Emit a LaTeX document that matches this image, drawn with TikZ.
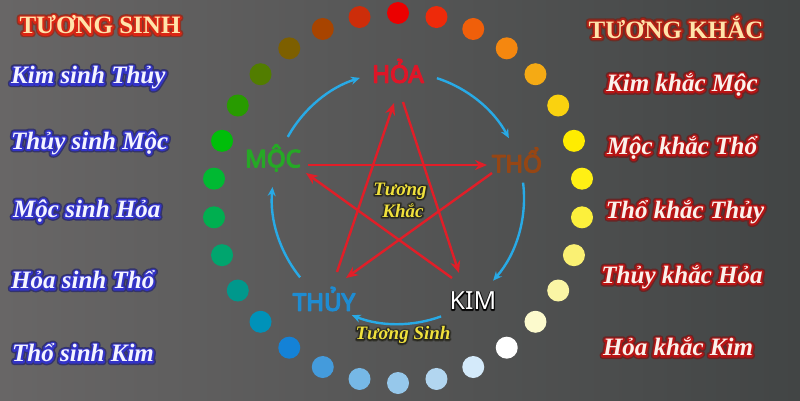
\documentclass[tikz,border=0pt]{standalone}
\usepackage{fontspec}
\setmainfont{Liberation Serif}
\newfontfamily\elemfont{Noto Sans}
\usetikzlibrary{arrows.meta,calc}
% outline glow: wide soft stroke #1/#2, narrow stroke #3/#4, then the normal fill pass
\newcommand\glowtxt[5]{\leavevmode\rlap{\special{pdf:literal direct 1 Tr #2 w 1 j 1 J #1 RG}#5\special{pdf:literal direct 0 Tr}}\rlap{\special{pdf:literal direct 1 Tr #4 w 1 j 1 J #3 RG}#5\special{pdf:literal direct 0 Tr}}#5}
% heavier weight: fill and stroke in the text colour
\newcommand\heavytxt[2]{\special{pdf:literal direct 2 Tr #1 w 1 j}#2\special{pdf:literal direct 0 Tr}}
\definecolor{bgl}{RGB}{104,102,102}
\definecolor{bgr}{RGB}{66,69,69}
\definecolor{titletxt}{RGB}{255,228,170}
\definecolor{itemtxt}{RGB}{250,242,236}
\definecolor{sinhtxt}{RGB}{245,245,255}
\definecolor{hoac}{RGB}{222,22,40}
\definecolor{mocc}{RGB}{38,168,38}
\definecolor{thoc}{RGB}{150,70,20}
\definecolor{thuyc}{RGB}{30,140,210}
\definecolor{arcc}{RGB}{40,170,230}
\definecolor{starc}{RGB}{225,30,40}
\definecolor{yel}{RGB}{240,225,60}
\begin{document}
\begin{tikzpicture}[x=1pt,y=1pt,
  dot/.style={circle,inner sep=0pt,minimum size=22pt},
  elem/.style={font=\elemfont\fontsize{24}{24}\selectfont,inner sep=0pt},
  sinhitem/.style={anchor=west,inner sep=0pt,text=sinhtxt,font=\fontsize{25}{25}\selectfont\bfseries\itshape},
  khacitem/.style={inner sep=0pt,text=itemtxt,font=\fontsize{25}{25}\selectfont\bfseries\itshape},
  titletext/.style={inner sep=0pt,text=titletxt,font=\fontsize{25}{25}\selectfont\bfseries},
  centertxt/.style={inner sep=0pt,text=yel,font=\fontsize{19}{22}\selectfont\bfseries\itshape,align=center},
  sarrow/.style={draw=arcc,line width=2.4pt,-{Stealth[length=9pt,width=8pt]}},
  karrow/.style={draw=starc,line width=2.4pt,-{Stealth[length=12pt,width=10pt]}}]
\useasboundingbox (0,0) rectangle (800,400);
\shade[left color=bgl,right color=bgr] (0,0) rectangle (800,400);
% ring of dots
\foreach \i/\r/\g/\b in {0/235/0/0,1/238/42/10,2/240/95/10,3/245/135/15,4/245/170/20,5/250/210/15,6/255/236/0,7/255/240/20,8/252/240/60,9/250/240/115,10/250/245/165,11/252/250/205,12/255/255/255,13/212/234/250,14/178/214/240,15/150/200/235,16/118/184/230,17/68/155/220,18/20/130/215,19/0/146/185,20/0/152/140,21/0/165/110,22/0/175/80,23/0/185/50,24/0/190/10,25/40/155/0,26/82/125/0,27/125/95/0,28/168/68/0,29/205/45/10}{
  \node[dot,fill={rgb,255:red,\r;green,\g;blue,\b}] (d\i) at ({398+185*sin(\i*12)},{202+185*cos(\i*12)}) {};
}
% centre
\coordinate (c) at (398,202);
% element labels
\node[elem,text=hoac] (hoa) at (398,329) {\heavytxt{1.3}{HỎA}};
\node[elem,text=mocc] (moc) at (273,242) {\heavytxt{1.2}{MỘC}};
\node[elem,text=thoc] (tho) at (517,240) {\heavytxt{1.2}{THỔ}};
\node[elem,text=thuyc] (thuy) at (324,101) {\heavytxt{1.3}{THỦY}};
\node[inner sep=0pt,text=white,font=\elemfont\fontsize{25}{25}\selectfont] (kim) at (473,99) {\glowtxt{0.15 0.15 0.15}{2.4}{0 0 0}{1.4}{KIM}};
% star (tuong khac)
\coordinate (mocA) at (308,235); \coordinate (thoB) at (487,235);
\coordinate (thoA) at (492,227); \coordinate (thuyB) at (346,122);
\coordinate (thuyA) at (337,128); \coordinate (hoaB) at (394,297);
\coordinate (hoaA) at (403,298); \coordinate (kimB) at (459,127);
\coordinate (kimA) at (452,122); \coordinate (mocB) at (306,227);
\draw[karrow] (mocA) -- (thoB);
\draw[karrow] (thoA) -- (thuyB);
\draw[karrow] (thuyA) -- (hoaB);
\draw[karrow] (hoaA) -- (kimB);
\draw[karrow] (kimA) -- (mocB);
% circle (tuong sinh)
\draw[sarrow] ($(c)+(151:126)$) arc[start angle=151,end angle=107.6,radius=126pt];
\draw[sarrow] ($(c)+(72:126)$) arc[start angle=72,end angle=28.4,radius=126pt];
\draw[sarrow] ($(c)+(7:126)$) arc[start angle=7,end angle=-41,radius=126pt];
\draw[sarrow] ($(c)+(-70:126)$) arc[start angle=-70,end angle=-111.5,radius=126pt];
\draw[sarrow] ($(c)+(-141:126)$) arc[start angle=-141,end angle=-185,radius=126pt];
% centre labels
\node[centertxt] (khac) at (400,200) {\glowtxt{0.25 0.25 0.23}{4}{0.15 0.15 0.12}{2.2}{Tương}\\\hspace*{6pt}\glowtxt{0.25 0.25 0.23}{4}{0.15 0.15 0.12}{2.2}{Khắc}};
\node[centertxt] (sinh) at (403,65) {\glowtxt{0.25 0.25 0.23}{4}{0.15 0.15 0.12}{2.2}{Tương Sinh}};
% left column
\node[titletext] (tsinh) at (100,375) {\glowtxt{0.55 0.2 0.15}{6.5}{0.85 0.15 0.08}{3.8}{TƯƠNG SINH}};
\node[sinhitem] (s1) at (11,322) {\glowtxt{0.2 0.2 0.42}{6.5}{0.2 0.2 0.78}{3.6}{Kim sinh Thủy}};
\node[sinhitem] (s2) at (11,257) {\glowtxt{0.2 0.2 0.42}{6.5}{0.2 0.2 0.78}{3.6}{Thủy sinh Mộc}};
\node[sinhitem] (s3) at (13,189) {\glowtxt{0.2 0.2 0.42}{6.5}{0.2 0.2 0.78}{3.6}{Mộc sinh Hỏa}};
\node[sinhitem] (s4) at (11,120) {\glowtxt{0.2 0.2 0.42}{6.5}{0.2 0.2 0.78}{3.6}{Hỏa sinh Thổ}};
\node[sinhitem] (s5) at (12,47) {\glowtxt{0.2 0.2 0.42}{6.5}{0.2 0.2 0.78}{3.6}{Thổ sinh Kim}};
% right column
\node[titletext] (tkhac) at (676,373) {\glowtxt{0.42 0.18 0.15}{6.5}{0.7 0.12 0.08}{3.8}{TƯƠNG KHẮC}};
\node[khacitem] (k1) at (682,315) {\glowtxt{0.4 0.15 0.15}{6.5}{0.72 0.08 0.08}{3.6}{Kim khắc Mộc}};
\node[khacitem] (k2) at (682,252) {\glowtxt{0.4 0.15 0.15}{6.5}{0.72 0.08 0.08}{3.6}{Mộc khắc Thổ}};
\node[khacitem] (k3) at (685,188) {\glowtxt{0.4 0.15 0.15}{6.5}{0.72 0.08 0.08}{3.6}{Thổ khắc Thủy}};
\node[khacitem] (k4) at (682,123) {\glowtxt{0.4 0.15 0.15}{6.5}{0.72 0.08 0.08}{3.6}{Thủy khắc Hỏa}};
\node[khacitem] (k5) at (678,53) {\glowtxt{0.4 0.15 0.15}{6.5}{0.72 0.08 0.08}{3.6}{Hỏa khắc Kim}};
\end{tikzpicture}
\end{document}
